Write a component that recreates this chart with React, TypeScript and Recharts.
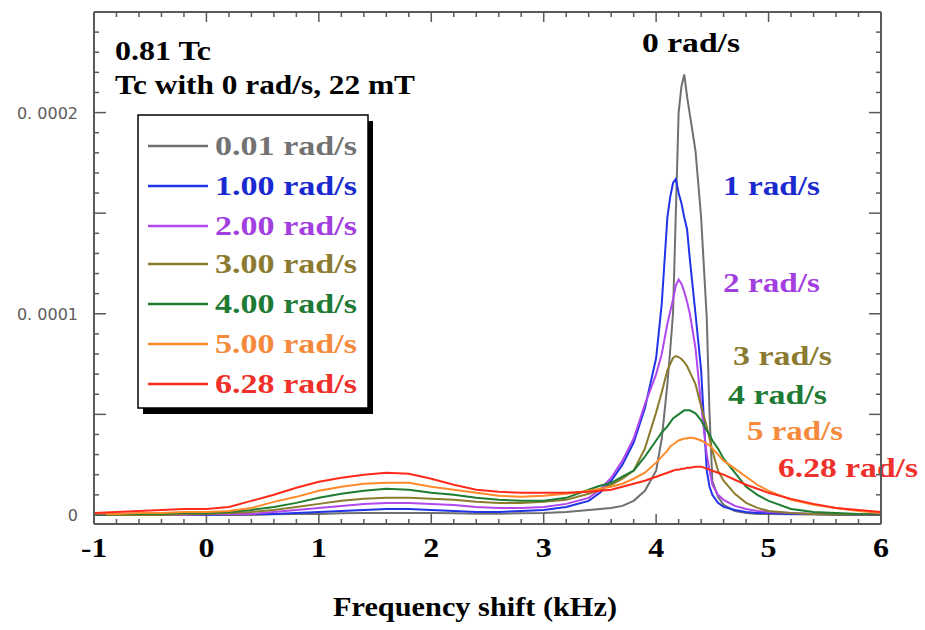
import React from 'react';
import { LineChart, Line, XAxis, YAxis, Legend, Customized } from 'recharts';

// Frequency shift (kHz)
const xs = [-1, -0.8, -0.6, -0.4, -0.2, 0, 0.2, 0.4, 0.6, 0.8, 1, 1.2, 1.4, 1.6, 1.8, 2, 2.2, 2.4, 2.6, 2.8, 3, 3.2, 3.4, 3.5, 3.6, 3.7, 3.8, 3.9, 4, 4.05, 4.1, 4.125, 4.15, 4.175, 4.2, 4.225, 4.25, 4.275, 4.3, 4.35, 4.4, 4.45, 4.475, 4.5, 4.55, 4.6, 4.7, 4.8, 4.9, 5, 5.2, 5.4, 5.6, 5.8, 6];

// intensities in units of 1e-6
const rot001 = [0, 0, 0, 0, 0, 0, 0, 0, 0.3, 0.5, 0.5, 0.8, 1, 1, 1, 1, 0.8, 0.6, 0.6, 0.8, 1, 1.5, 2.5, 3, 3.5, 4.5, 7, 12, 22, 38, 65, 82, 100, 150, 200, 213, 219, 208, 199, 181, 148, 98, 50, 17, 9, 5, 2, 1, 0.5, 0.5, 0.3, 0.2, 0, 0, 0];
const rot100 = [0, 0, 0, 0, 0, 0, 0.3, 0.5, 0.5, 1, 1.5, 2, 2.5, 3, 3, 2.5, 2, 1.5, 1.5, 2, 2.5, 4, 7, 11, 17, 25, 36, 53, 78, 105, 148, 158, 165, 167, 160, 155, 148, 142, 127, 100, 72, 22, 14, 10, 6, 4, 2.5, 1.5, 1, 1, 0.5, 0.5, 0.3, 0.2, 0];
const rot200 = [0, 0, 0, 0, 0, 0.3, 0.5, 0.5, 1.5, 2.5, 3.5, 4.5, 5.5, 6, 6, 5.5, 5, 4, 3.5, 3.5, 4, 5.5, 8.5, 12.5, 18.5, 27, 38, 55, 70, 80, 95, 101, 107, 114, 117, 115, 111, 106, 100, 83, 55, 30, 22, 15, 10, 7.5, 4.5, 3, 2, 1.5, 1, 0.5, 0.5, 0.3, 0.2];
const rot300 = [0, 0, 0, 0, 0.3, 0.5, 1, 1.5, 2.5, 4, 5.5, 7, 8, 8.5, 8.5, 8, 7.5, 6.5, 6, 6, 6.5, 7.5, 10.5, 12.5, 15, 18, 22, 33, 51, 61, 72, 75, 78, 79, 78.5, 77.5, 76, 74, 71, 65, 54, 44, 38, 32, 22, 17, 10.5, 6, 3.5, 2, 1, 0.5, 0.3, 0.2, 0];
const rot400 = [0, 0.3, 0.5, 0.5, 1, 1, 1.5, 2.5, 4, 6, 8.5, 10.5, 12, 13, 12.5, 11, 10, 8.5, 7.5, 7, 7, 8.5, 12.5, 14.5, 16, 19, 22, 29, 37, 41, 44, 46, 48, 49, 50, 51, 52, 52, 52, 50.5, 47, 42, 40, 37, 33, 28, 21, 14, 10, 7, 3, 1.5, 1, 0.5, 0.3];
const rot500 = [0.5, 0.5, 1, 1, 1.5, 1.5, 2, 3.5, 6.5, 9, 12, 14, 15.5, 16, 16, 14, 12.5, 11, 9.5, 9, 9.5, 10.5, 12, 13, 14, 15.5, 18, 21, 26, 29, 32, 34, 35, 36, 37, 37.5, 38, 38, 38.5, 38, 37, 35.5, 34.5, 33, 30, 27, 23, 19, 15, 12, 7.5, 5, 3.5, 2, 1];
const rot628 = [1, 1.5, 2, 2.5, 3, 3, 4, 7, 10, 13.5, 16.5, 18.5, 20, 21, 20.5, 18, 15, 12.5, 11.5, 11, 11, 11, 11.5, 12, 12.5, 14, 15.5, 17, 19, 20, 21, 21.5, 22, 22.5, 22.5, 23, 23, 23.5, 23.5, 24, 24, 23, 22.5, 22, 21, 20, 17.5, 15, 13, 11, 8, 5.5, 3.5, 2.5, 1.5];

const seriesNames = ['0.01 rad/s', '1.00 rad/s', '2.00 rad/s', '3.00 rad/s', '4.00 rad/s', '5.00 rad/s', '6.28 rad/s'];
const seriesValues = [rot001, rot100, rot200, rot300, rot400, rot500, rot628];

const xTickValues = [-1, 0, 1, 2, 3, 4, 5, 6];
const xTickLabels = ['-1', '0', '1', '2', '3', '4', '5', '6'];
const yTickValues = [0, 100, 200];
const yTickLabels = ['0', '0. 0001', '0. 0002'];

const annotationTexts = ['0.81 Tc', 'Tc with 0 rad/s, 22 mT'];
const peakLabels = ['0 rad/s', '1 rad/s', '2 rad/s', '3 rad/s', '4 rad/s', '5 rad/s', '6.28 rad/s'];
const xTitle = 'Frequency shift (kHz)';

// styling
const lineColors = ['#707070', '#2034e6', '#b048ee', '#8a7c2c', '#1f7d32', '#ff8a2a', '#ff2a1a'];
const textColors = ['#727272', '#1a2ad0', '#a33fe0', '#8c7a30', '#1e7a34', '#f58a3c', '#f0302a'];
const FRAME = '#5a5a5a';
const SERIF = "'Liberation Serif','Times New Roman',serif";

const rows = xs.map((x, i) => {
  const r: any = { x };
  seriesValues.forEach((vals, k) => { r['s' + k] = vals[i]; });
  return r;
});

const minorX = Array.from({ length: 36 }, (_, i) => Math.round((-1 + i * 0.2) * 10) / 10);
const minorY = Array.from({ length: 25 }, (_, i) => i * 10);

function SText(p: any) {
  const { x, y, w, fill = '#000', size = 27, anchor = 'start', children } = p;
  return (
    <text x={x} y={y} fill={fill} fontSize={size} fontWeight="bold" fontFamily={SERIF}
      textAnchor={anchor} textLength={w} lengthAdjust="spacingAndGlyphs">{children}</text>
  );
}

const isMajorX = (v: number) => Math.abs(v - Math.round(v)) < 1e-6;

const BottomTick = (p: any) => {
  const { x, y, payload } = p;
  const v = payload.value;
  const major = isMajorX(v);
  const idx = xTickValues.findIndex((t) => Math.abs(t - v) < 1e-6);
  const lab = idx >= 0 ? xTickLabels[idx] : null;
  return (
    <g>
      <line x1={x} x2={x} y1={y} y2={y - (major ? 10 : 5)} stroke={FRAME} strokeWidth={1.5} />
      {lab !== null && (
        <SText x={x} y={y + 33} w={lab.length > 1 ? 26 : 16} anchor="middle">{lab}</SText>
      )}
    </g>
  );
};

const TopTick = (p: any) => {
  const { x, y, payload } = p;
  const major = isMajorX(payload.value);
  return <line x1={x} x2={x} y1={y} y2={y + (major ? 10 : 5)} stroke={FRAME} strokeWidth={1.5} />;
};

const LeftTick = (p: any) => {
  const { x, y, payload } = p;
  const v = payload.value;
  const major = Math.round(v) % 50 === 0;
  const idx = yTickValues.indexOf(Math.round(v));
  return (
    <g>
      <line x1={x} x2={x + (major ? 12 : 5)} y1={y} y2={y} stroke={FRAME} strokeWidth={1.5} />
      {idx >= 0 && (
        <text x={x - 16} y={y + 6} fill="#5c5c5c" fontSize={16} fontFamily="'DejaVu Sans',sans-serif" textAnchor="end">
          {yTickLabels[idx]}
        </text>
      )}
    </g>
  );
};

const RightTick = (p: any) => {
  const { x, y, payload } = p;
  const major = Math.round(payload.value) % 50 === 0;
  return <line x1={x} x2={x - (major ? 12 : 5)} y1={y} y2={y} stroke={FRAME} strokeWidth={1.5} />;
};

const TitleLabel = () => (
  <SText x={475} y={616} w={284} size={28} anchor="middle">{xTitle}</SText>
);

const peakPos = [
  { x: 642, y: 52, w: 98 },
  { x: 723, y: 195, w: 97 },
  { x: 723, y: 292, w: 97 },
  { x: 733, y: 365, w: 99 },
  { x: 728, y: 404, w: 99 },
  { x: 747, y: 440, w: 96 },
  { x: 778, y: 477, w: 140 },
];

const Annotations = () => (
  <g>
    <SText x={115} y={60} w={96}>{annotationTexts[0]}</SText>
    <SText x={115} y={94} w={300}>{annotationTexts[1]}</SText>
    {peakLabels.map((t, i) => (
      <SText key={t} x={peakPos[i].x} y={peakPos[i].y} w={peakPos[i].w} fill={i === 0 ? '#000' : textColors[i]}>{t}</SText>
    ))}
  </g>
);

const LegendBox = () => {
  const ox = 130;
  const oy = 108;
  const baselines = [155, 195, 235, 273, 313, 353, 393];
  return (
    <svg width={252} height={315} style={{ display: 'block', overflow: 'visible' }}>
      <rect x={138 - ox + 5} y={115 - oy + 6} width={230} height={293} fill="#000" />
      <rect x={138 - ox} y={115 - oy} width={230} height={293} fill="#fff" stroke="#000" strokeWidth={1.5} />
      {seriesNames.map((n, i) => (
        <g key={n}>
          <line x1={148 - ox} x2={208 - ox} y1={baselines[i] - 9 - oy} y2={baselines[i] - 9 - oy} stroke={lineColors[i]} strokeWidth={2.5} />
          <SText x={215 - ox} y={baselines[i] - oy} w={142} fill={textColors[i]}>{n}</SText>
        </g>
      ))}
    </svg>
  );
};

export default function App() {
  return (
    <div style={{ position: 'absolute', left: 0, top: 0, width: 925, height: 630, background: '#fff' }}>
      <LineChart width={925} height={630} data={rows} margin={{ top: 0, right: 0, bottom: 0, left: 0 }}>
        <XAxis dataKey="x" type="number" domain={[-1, 6]} ticks={minorX} interval={0} height={106}
          tickSize={0} tickMargin={0} tickLine={false} tick={<BottomTick />}
          axisLine={{ stroke: FRAME, strokeWidth: 2 }} allowDataOverflow label={<TitleLabel />} />
        <XAxis xAxisId="top" orientation="top" dataKey="x" type="number" domain={[-1, 6]} ticks={minorX} interval={0} height={12}
          tickSize={0} tickMargin={0} tickLine={false} tick={<TopTick />}
          axisLine={{ stroke: FRAME, strokeWidth: 2 }} allowDataOverflow />
        <YAxis type="number" domain={[-4.5, 250]} ticks={minorY} interval={0} width={94}
          tickSize={0} tickMargin={0} tickLine={false} tick={<LeftTick />}
          axisLine={{ stroke: FRAME, strokeWidth: 2 }} allowDataOverflow />
        <YAxis yAxisId="r" orientation="right" type="number" domain={[-4.5, 250]} ticks={minorY} interval={0} width={44}
          tickSize={0} tickMargin={0} tickLine={false} tick={<RightTick />}
          axisLine={{ stroke: FRAME, strokeWidth: 2 }} allowDataOverflow />
        {seriesNames.map((n, i) => (
          <Line key={n} type="linear" dataKey={'s' + i} name={n} stroke={lineColors[i]} strokeWidth={2}
            dot={false} isAnimationActive={false} />
        ))}
        <Customized component={<Annotations />} />
        <Legend layout="horizontal" align="center" verticalAlign="middle" content={<LegendBox />}
          wrapperStyle={{ left: 130, top: 108, width: 252, height: 315 }} />
      </LineChart>
    </div>
  );
}
